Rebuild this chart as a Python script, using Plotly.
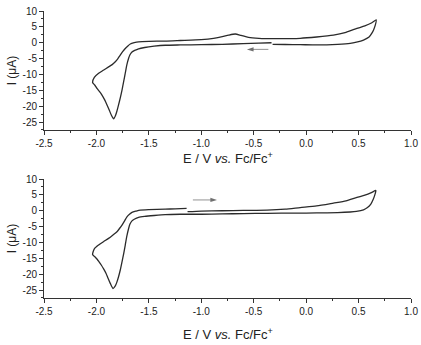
import plotly.graph_objects as go

# ---------------- data ----------------
# Top voltammogram: starts at -0.33 V scanning negative
top_E = [-0.33, -0.45, -0.6, -0.8, -1.0, -1.2, -1.344, -1.45, -1.54, -1.598, -1.635, -1.661, -1.68,
         -1.693, -1.71, -1.725, -1.74, -1.756, -1.772, -1.789, -1.805, -1.82, -1.836, -1.858, -1.878,
         -1.899, -1.92, -1.947, -1.97, -1.995, -2.015, -2.037,
         -2.02, -1.979, -1.93, -1.884, -1.85, -1.82, -1.795, -1.773, -1.75, -1.725, -1.70, -1.677,
         -1.64, -1.598, -1.5, -1.344, -1.2, -1.0, -0.883, -0.8, -0.74, -0.676, -0.62, -0.55, -0.45,
         -0.3, -0.057, 0.1, 0.26, 0.38, 0.484, 0.56, 0.627, 0.668,
         0.66, 0.645, 0.627, 0.6, 0.547, 0.48, 0.42, 0.3, 0.102, -0.057, -0.2, -0.32]
top_I = [0.0, -0.15, -0.3, -0.5, -0.6, -0.7, -0.8, -1.1, -1.5, -1.9, -2.4, -2.9, -3.8,
         -4.9, -7.0, -9.6, -12.2, -14.9, -17.3, -19.6, -21.6, -23.1, -24.0, -22.8, -21.2,
         -19.6, -18.1, -16.5, -15.4, -14.4, -13.4, -12.5,
         -10.9, -9.6, -8.6, -7.6, -6.9, -6.0, -5.0, -3.9, -2.8, -1.8, -1.0, -0.4,
         0.0, 0.3, 0.45, 0.5, 0.7, 1.0, 1.4, 1.9, 2.4, 2.75, 2.3, 1.7, 1.4,
         1.3, 1.4, 1.8, 2.4, 3.3, 4.5, 5.3, 6.3, 7.2,
         5.6, 4.2, 3.0, 1.8, 0.85, 0.2, -0.2, -0.5, -0.7, -0.6, -0.55, -0.5]

# Bottom voltammogram: starts at -1.13 V scanning positive
bot_E = [-1.131, -1.0, -0.8, -0.6, -0.374, -0.2, -0.057, 0.1, 0.26, 0.38, 0.484, 0.56, 0.627, 0.665,
         0.655, 0.64, 0.617, 0.585, 0.547, 0.48, 0.42, 0.3, 0.102, -0.1, -0.374, -0.6, -0.8, -1.0,
         -1.2, -1.344, -1.45, -1.54, -1.598, -1.635, -1.661, -1.68, -1.693, -1.71, -1.725, -1.74,
         -1.756, -1.772, -1.789, -1.805, -1.82, -1.842, -1.868, -1.889, -1.909, -1.93, -1.954,
         -1.975, -1.995, -2.015, -2.037,
         -2.02, -1.979, -1.93, -1.884, -1.845, -1.804, -1.78, -1.756, -1.73, -1.709, -1.685,
         -1.661, -1.62, -1.582, -1.5, -1.344, -1.25, -1.14]
bot_I = [-0.3, -0.1, 0.0, 0.1, 0.2, 0.5, 1.0, 1.5, 2.4, 3.1, 4.2, 4.9, 5.8, 6.4,
         5.0, 3.6, 2.1, 1.0, 0.3, -0.2, -0.4, -0.6, -0.7, -0.75, -0.8, -0.9, -1.0, -1.1,
         -1.1, -1.2, -1.5, -1.8, -2.1, -2.6, -3.2, -4.2, -5.6, -8.0, -10.8, -13.5,
         -16.1, -18.6, -20.8, -22.5, -23.7, -24.5, -22.9, -21.3, -19.7, -18.4, -17.1,
         -16.1, -15.2, -14.5, -13.8,
         -12.0, -10.8, -9.7, -8.7, -7.7, -6.6, -5.6, -4.5, -3.1, -1.9, -1.1,
         -0.5, -0.1, 0.2, 0.35, 0.5, 0.6, 0.75]

# scan-direction arrows (tail -> head)
top_arrow_E = [-0.36, -0.565]
top_arrow_I = [-2.1, -2.1]
bot_arrow_E = [-1.08, -0.85]
bot_arrow_I = [3.4, 3.4]

x_ticks = [-2.5, -2.0, -1.5, -1.0, -0.5, 0.0, 0.5, 1.0]
x_ticktext = ["-2.5", "-2.0", "-1.5", "-1.0", "-0.5", "0.0", "0.5", "1.0"]
y_ticks = [-25, -20, -15, -10, -5, 0, 5, 10]
y_ticktext = ["-25", "-20", "-15", "-10", "-5", "0", "5", "10"]

x_title = "E / V <i>vs.</i> Fc/Fc<sup>+</sup>"
y_title = "I (\u03bcA)"

# ---------------- figure ----------------
FONT = "Liberation Sans, Arial, sans-serif"
LINE = "#2b2b2b"

fig = go.Figure()
fig.add_trace(go.Scatter(x=top_E, y=top_I, mode="lines", xaxis="x", yaxis="y",
                         line=dict(color=LINE, width=1.3, shape="spline", smoothing=0.6),
                         showlegend=False, hoverinfo="skip"))
fig.add_trace(go.Scatter(x=bot_E, y=bot_I, mode="lines", xaxis="x2", yaxis="y2",
                         line=dict(color=LINE, width=1.3, shape="spline", smoothing=0.6),
                         showlegend=False, hoverinfo="skip"))

# arrows drawn as a thin shaft plus an arrow-head marker
for (ae, ai, xr, yr) in [(top_arrow_E, top_arrow_I, "x", "y"), (bot_arrow_E, bot_arrow_I, "x2", "y2")]:
    fig.add_trace(go.Scatter(x=ae, y=ai, mode="lines+markers", xaxis=xr, yaxis=yr,
                             line=dict(color="#777777", width=0.8),
                             marker=dict(symbol=["circle", "arrow"], size=[0, 7], angleref="previous",
                                         color="#333333", line=dict(width=0)),
                             showlegend=False, hoverinfo="skip"))

def xax(anchor):
    return dict(range=[-2.5, 1.0], tickmode="array", tickvals=x_ticks, ticktext=x_ticktext,
                ticks="outside", ticklen=4, tickwidth=1, tickcolor="#333",
                minor=dict(dtick=0.25, tick0=0, ticks="outside", ticklen=2, tickcolor="#333"),
                showline=True, linecolor="#333", linewidth=1, showgrid=False, zeroline=False,
                mirror=False, anchor=anchor,
                tickfont=dict(family=FONT, size=10, color="#222"))

def yax(anchor, dom):
    return dict(range=[-27.5, 10], domain=dom, tickmode="array", tickvals=y_ticks, ticktext=y_ticktext,
                ticks="outside", ticklen=4, tickwidth=1, tickcolor="#333",
                minor=dict(dtick=2.5, tick0=0, ticks="outside", ticklen=2, tickcolor="#333"),
                showline=True, linecolor="#333", linewidth=1, showgrid=False, zeroline=False,
                anchor=anchor,
                tickfont=dict(family=FONT, size=10, color="#222"),
                title=dict(text=y_title, font=dict(family=FONT, size=12, color="#222"), standoff=3))

fig.update_layout(
    width=421, height=345,
    margin=dict(l=44, r=10, t=11, b=47, autoexpand=False),
    paper_bgcolor="white", plot_bgcolor="white",
    xaxis=xax("y"), yaxis=yax("x", [0.5854, 1.0]),
    xaxis2=xax("y2"), yaxis2=yax("x2", [0.0, 0.4146]),
    font=dict(family=FONT),
)

# x-axis titles placed below each panel
for ty in [0.487, -0.125]:
    fig.add_annotation(text=x_title, xref="paper", yref="paper", x=0.5, y=ty,
                       xanchor="center", yanchor="middle", showarrow=False,
                       font=dict(family=FONT, size=13, color="#222"))

fig.write_html("out.html")
